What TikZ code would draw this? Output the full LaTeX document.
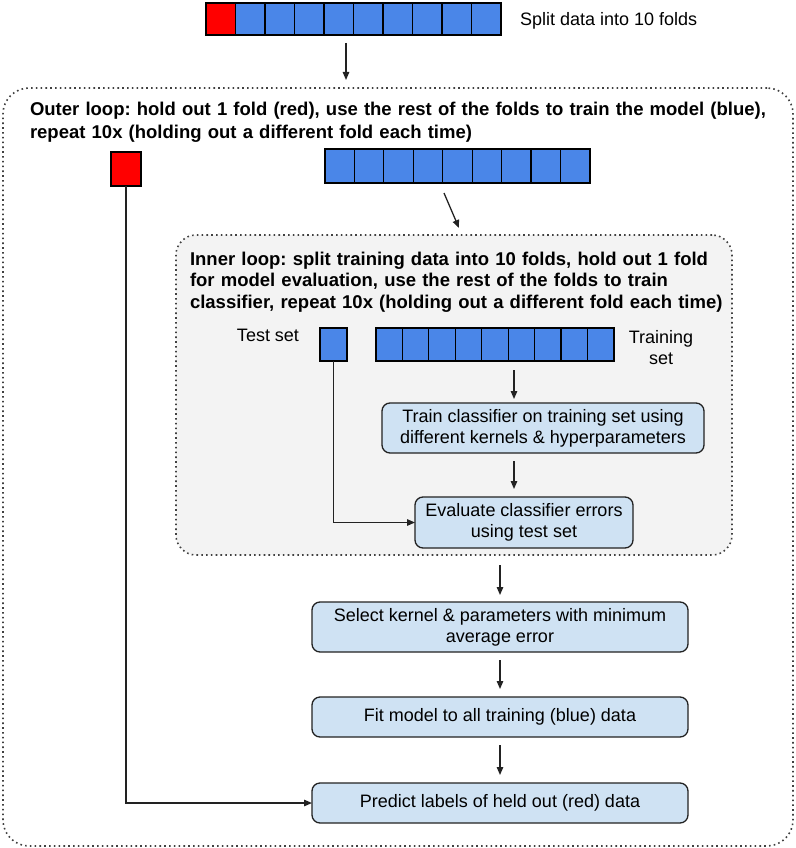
\documentclass[tikz,border=0pt]{standalone}
\usepackage{fontspec}
\setmainfont{Liberation Sans}
\usetikzlibrary{arrows.meta,calc}
\definecolor{fold}{HTML}{4A86E8}
\definecolor{held}{HTML}{FF0000}
\definecolor{boxfill}{HTML}{CFE2F3}
\definecolor{innerfill}{HTML}{F3F3F3}
\definecolor{edge}{HTML}{222222}
\definecolor{dotc}{HTML}{404040}
\frenchspacing
\begin{document}
\begin{tikzpicture}[x=1pt,y=-1pt,
  sqbox/.style={draw=black,line width=1.2pt,inner sep=0pt,outer sep=0pt},
  dotbox/.style={draw=dotc,line width=1.6pt,dash pattern=on 1.6pt off 3.2pt,inner sep=0pt,outer sep=0pt},
  stepbox/.style={draw=edge,line width=1.3pt,fill=boxfill,rounded corners=8pt,inner sep=0pt,outer sep=0pt,align=center,
    font=\fontsize{18}{21}\selectfont},
  plain/.style={inner sep=0pt,outer sep=0pt,font=\fontsize{18}{21}\selectfont},
  titletext/.style={inner sep=0pt,outer sep=0pt,align=left,anchor=base west},
  arr/.style={draw=edge,line width=1.3pt,-{Triangle[length=8pt,width=6.5pt]}},
  gap/.style={shorten <=8pt,shorten >=8pt},
]
\useasboundingbox (0,0) rectangle (795,848);

% outer and inner loop frames
\node[dotbox,rounded corners=26pt,minimum width=790pt,minimum height=758pt] (outer) at (398,467) {};
\node[dotbox,fill=innerfill,rounded corners=20pt,minimum width=556pt,minimum height=320pt] (inner) at (454,395) {};

% top row of 10 folds
\node[sqbox,fill=held,minimum width=29.5pt,minimum height=32pt] (t1) at ({206+29.5*0.5},19) {};
\foreach \i in {2,...,10}
  \node[sqbox,fill=fold,minimum width=29.5pt,minimum height=32pt] (t\i) at ({206+29.5*(\i-0.5)},19) {};
\node[plain,anchor=base west] (splitlbl) at (520,26) {Split data into 10 folds};

% outer title
\node[titletext,text width=733pt,font=\bfseries\fontsize{18.5}{22.6}\selectfont] (otitle) at (30,116)
  {\makebox[\linewidth][s]{Outer loop: hold out 1 fold (red), use the rest of the folds to train the model (blue),}\\
   repeat 10x (holding out a different fold each time)};

% held-out fold and 9 training folds
\node[sqbox,fill=held,minimum width=30pt,minimum height=34pt] (hold) at (126,169) {};
\foreach \i in {1,...,9}
  \node[sqbox,fill=fold,minimum width=29.44pt,minimum height=34pt] (r\i) at ({325+29.44*(\i-0.5)},166) {};

% inner title
\node[titletext,text width=537pt,font=\bfseries\fontsize{18.5}{21.5}\selectfont] (ititle) at (190,265)
  {\makebox[\linewidth][s]{Inner loop: split training data into 10 folds, hold out 1 fold}\\
   \makebox[\linewidth][s]{for model evaluation, use the rest of the folds to train}\\
   \makebox[\linewidth][s]{classifier, repeat 10x (holding out a different fold each time)}};

% test set and training set
\node[plain,anchor=base] (testlbl) at (268,341) {Test set};
\node[sqbox,fill=fold,minimum width=27pt,minimum height=33pt] (test) at (333.5,344.5) {};
\foreach \i in {1,...,9}
  \node[sqbox,fill=fold,minimum width=26.44pt,minimum height=33pt] (s\i) at ({376+26.44*(\i-0.5)},344.5) {};
\node[plain,text width=90pt,align=center,anchor=base] (trainlbl) at (661,343) {Training\\set};

% process boxes
\node[stepbox,minimum width=322pt,minimum height=50pt] (train) at (543,428)
  {Train classifier on training set using\\different kernels \& hyperparameters};
\node[stepbox,minimum width=218pt,minimum height=51pt] (eval) at (524,522.5)
  {Evaluate classifier errors\\using test set};
\node[stepbox,minimum width=376pt,minimum height=50pt] (select) at (500,627)
  {Select kernel \& parameters with minimum\\average error};
\node[stepbox,minimum width=376pt,minimum height=40pt] (fit) at (500,717)
  {Fit model to all training (blue) data};
\node[stepbox,minimum width=376pt,minimum height=40pt] (pred) at (500,803)
  {Predict labels of held out (red) data};

% connectors
\coordinate (ax) at (346,0);
\coordinate (bx) at (514,0);
\coordinate (dA) at (444,193);
\coordinate (dB) at (459,228);
\draw[arr,gap] (ax |- t5.south) -- (ax |- outer.north);
\draw[arr] (dA) -- (dB);
\draw[arr,shorten <=9pt,shorten >=4pt] (bx |- s6.south) -- (bx |- train.north);
\draw[arr,gap] (bx |- train.south) -- (bx |- eval.north);
\draw[arr,shorten <=10pt,shorten >=7pt] (select.north |- inner.south) -- (select.north);
\draw[arr,gap] (select.south) -- (fit.north);
\draw[arr,gap] (fit.south) -- (pred.north);
\draw[arr] (test.south) |- (eval.west);
\draw[arr] (hold.south) |- (pred.west);
\end{tikzpicture}
\end{document}
